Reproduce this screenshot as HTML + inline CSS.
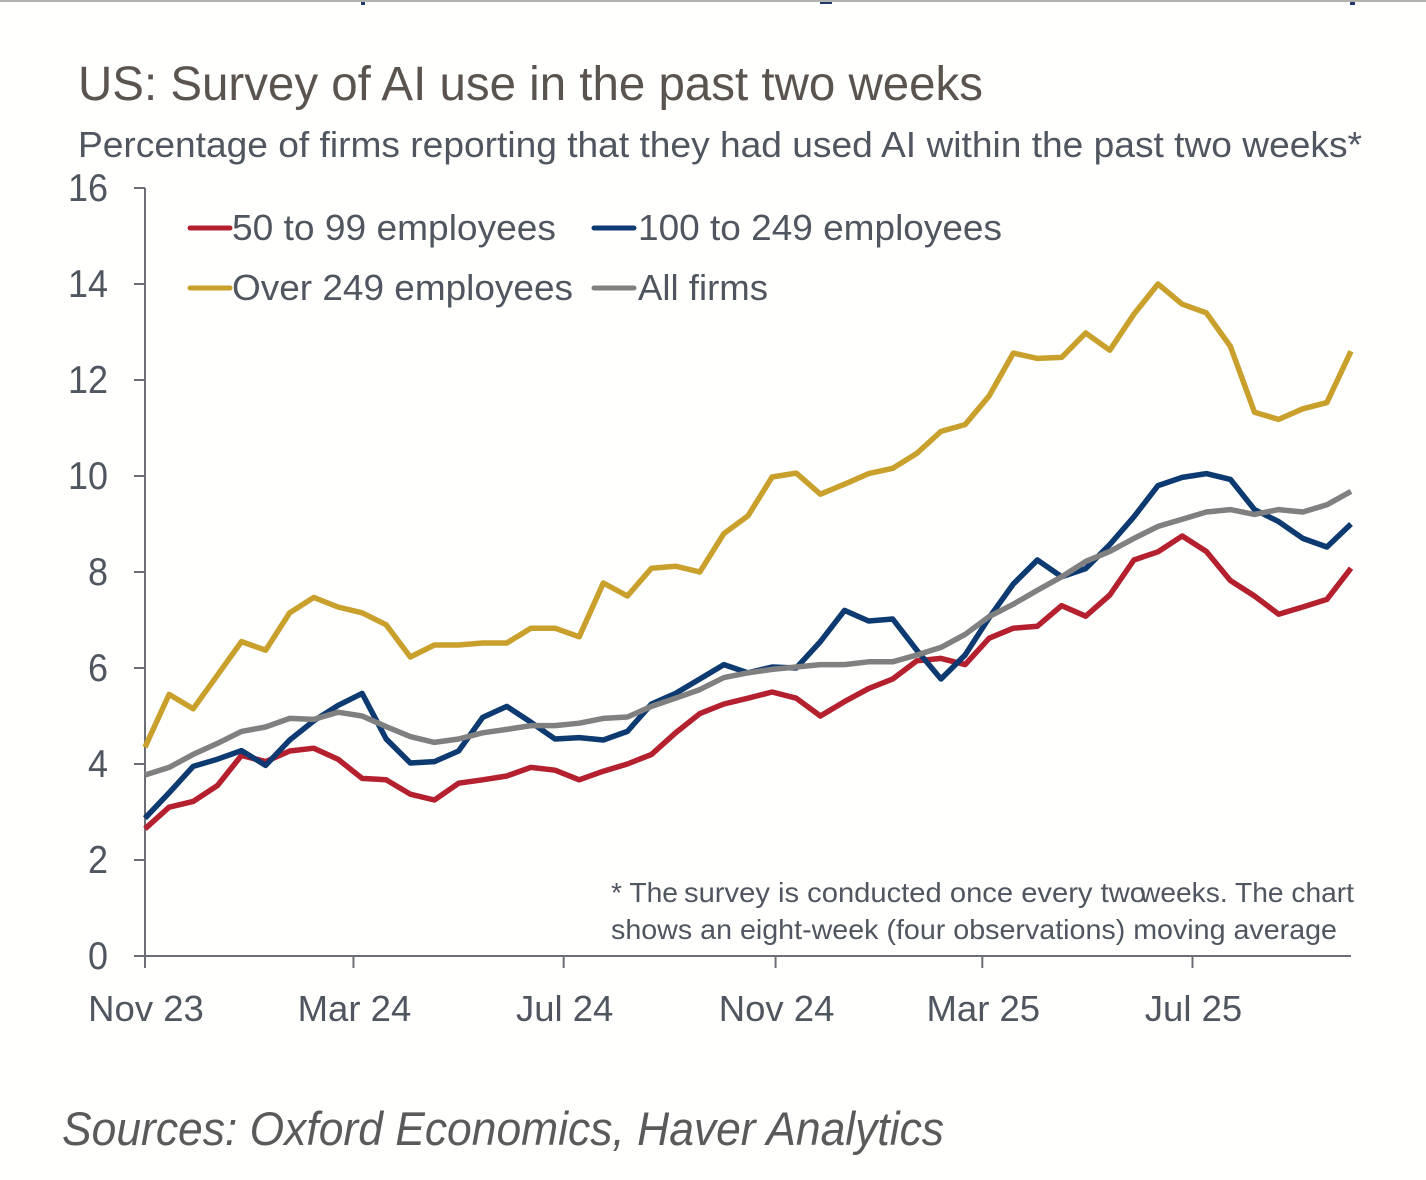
<!DOCTYPE html>
<html lang="en">
<head>
<meta charset="utf-8">
<title>US: Survey of AI use in the past two weeks</title>
<style>
  html, body { margin: 0; padding: 0; background: #fff; }
  body { width: 1426px; height: 1180px; overflow: hidden; }
  svg { display: block; font-family: "Liberation Sans", "DejaVu Sans", sans-serif; }
</style>
</head>
<body>
<svg id="chart" width="1426" height="1180" viewBox="0 0 1426 1180" xmlns="http://www.w3.org/2000/svg">
  <rect x="0" y="0" width="1426" height="1180" fill="#fffffe"/>
  <rect x="0" y="0" width="1426" height="2" fill="#b3b3ae"/>
  <rect x="361" y="2" width="4" height="3" fill="#1f3a6e"/>
  <rect x="820" y="2" width="12" height="2" fill="#1f3a6e"/>
  <rect x="1350" y="2" width="5" height="3" fill="#1f3a6e"/>

  <text x="78" y="100" font-size="48" fill="#5b544e" textLength="905" lengthAdjust="spacingAndGlyphs">US: Survey of AI use in the past two weeks</text>
  <text x="78" y="157" font-size="36" fill="#4f5660" textLength="1284" lengthAdjust="spacingAndGlyphs">Percentage of firms reporting that they had used AI within the past two weeks*</text>

  <g id="axes"></g>
  <g id="series"></g>

  <g>
    <g>
      <line x1="190" y1="228" x2="230" y2="228" stroke="#b5202e" stroke-width="5" stroke-linecap="round"/>
      <text x="232" y="240" font-size="36" fill="#4f5660" textLength="324" lengthAdjust="spacingAndGlyphs">50 to 99 employees</text>
    </g>
    <g>
      <line x1="594" y1="228" x2="634" y2="228" stroke="#0d3a70" stroke-width="5" stroke-linecap="round"/>
      <text x="638" y="240" font-size="36" fill="#4f5660" textLength="364" lengthAdjust="spacingAndGlyphs">100 to 249 employees</text>
    </g>
    <g>
      <line x1="190" y1="288" x2="230" y2="288" stroke="#c9a02c" stroke-width="5" stroke-linecap="round"/>
      <text x="232" y="300" font-size="36" fill="#4f5660" textLength="341" lengthAdjust="spacingAndGlyphs">Over 249 employees</text>
    </g>
    <g>
      <line x1="594" y1="288" x2="634" y2="288" stroke="#808080" stroke-width="5" stroke-linecap="round"/>
      <text x="638" y="300" font-size="36" fill="#4f5660" textLength="130" lengthAdjust="spacingAndGlyphs">All firms</text>
    </g>
  </g>

  <g font-size="28" fill="#4f5660">
    <text x="611" y="902" textLength="67" lengthAdjust="spacingAndGlyphs">* The</text>
    <text x="684" y="902" textLength="462" lengthAdjust="spacingAndGlyphs">survey is conducted once every two</text>
    <text x="1140" y="902" textLength="214" lengthAdjust="spacingAndGlyphs">weeks. The chart</text>
    <text x="611" y="939" textLength="726" lengthAdjust="spacingAndGlyphs">shows an eight-week (four observations) moving average</text>
  </g>

  <text x="62" y="1145" font-size="47" font-style="italic" fill="#5a5a5a" textLength="882" lengthAdjust="spacingAndGlyphs">Sources: Oxford Economics, Haver Analytics</text>
</svg>

<script>
var yTickValues = [0, 2, 4, 6, 8, 10, 12, 14, 16];
var xTickLabels = ["Nov 23", "Mar 24", "Jul 24", "Nov 24", "Mar 25", "Jul 25"];
var xTickDays = [0, 121, 243, 366, 486, 608];
var observationStepDays = 14;

var firms50to99 = [2.65,3.1,3.22,3.55,4.18,4.05,4.27,4.33,4.1,3.7,3.67,3.37,3.25,3.6,3.67,3.75,3.93,3.87,3.67,3.85,4.0,4.2,4.65,5.05,5.25,5.37,5.5,5.37,5.0,5.3,5.57,5.77,6.15,6.2,6.07,6.62,6.83,6.87,7.3,7.08,7.52,8.25,8.42,8.75,8.43,7.82,7.5,7.12,7.27,7.43,8.08];
var firms100to249 = [2.87,3.4,3.95,4.1,4.28,3.97,4.5,4.9,5.22,5.47,4.52,4.02,4.05,4.27,4.97,5.2,4.87,4.52,4.55,4.5,4.68,5.25,5.47,5.77,6.07,5.9,6.02,6.0,6.55,7.2,6.98,7.02,6.37,5.77,6.27,7.05,7.75,8.25,7.9,8.07,8.57,9.15,9.8,9.97,10.05,9.93,9.3,9.05,8.7,8.52,9.0];
var firmsOver249 = [4.35,5.45,5.15,5.85,6.55,6.37,7.15,7.47,7.27,7.15,6.9,6.23,6.48,6.48,6.52,6.52,6.83,6.83,6.65,7.77,7.5,8.08,8.12,8.0,8.8,9.17,9.98,10.06,9.62,9.83,10.05,10.16,10.47,10.93,11.07,11.67,12.56,12.45,12.47,12.98,12.62,13.37,14.0,13.58,13.4,12.7,11.33,11.18,11.4,11.53,12.6];
var firmsAll = [3.77,3.93,4.2,4.43,4.68,4.77,4.95,4.93,5.08,5.0,4.78,4.57,4.45,4.52,4.65,4.72,4.8,4.8,4.85,4.95,4.98,5.2,5.37,5.55,5.8,5.9,5.97,6.02,6.07,6.07,6.13,6.13,6.27,6.43,6.7,7.07,7.33,7.62,7.9,8.22,8.43,8.7,8.95,9.1,9.25,9.3,9.2,9.3,9.25,9.4,9.68];

var SVG_NS = "http://www.w3.org/2000/svg";
var axisColor = "#6b6f75";
var textColor = "#4f5660";

function xScale(day) { return 145 + day * (1206 / 700); }
function yScale(value) { return 956 - value * 48; }

function make(tag, attrs, parent) {
  var el = document.createElementNS(SVG_NS, tag);
  for (var key in attrs) { el.setAttribute(key, attrs[key]); }
  parent.appendChild(el);
  return el;
}

var axes = document.getElementById("axes");

var yAxisLine = make("line", {x1: 145, y1: yScale(16), x2: 145, y2: yScale(0), stroke: axisColor, "stroke-width": 2}, axes);



var xAxisLine = make("line", {x1: 134, y1: yScale(0), x2: xScale(700), y2: yScale(0), stroke: axisColor, "stroke-width": 2}, axes);



yTickValues.forEach(function (value) {
  var y = yScale(value);
  var tick = make("line", {x1: 134, y1: y, x2: 145, y2: y, stroke: axisColor, "stroke-width": 2}, axes);
  
  
  var label = make("text", {x: 108, y: y + 13, "text-anchor": "end", "font-size": 38.5, fill: textColor, textLength: String(value).length * 20, lengthAdjust: "spacingAndGlyphs"}, axes);
  
  
  label.textContent = value;
});

xTickLabels.forEach(function (text, i) {
  var x = xScale(xTickDays[i]);
  var tick = make("line", {x1: x, y1: yScale(0), x2: x, y2: yScale(0) + 12, stroke: axisColor, "stroke-width": 2}, axes);
  
  
  var label = make("text", {x: x + 1, y: 1021, "text-anchor": "middle", "font-size": 36.5, fill: textColor}, axes);
  
  
  label.textContent = text;
});

function drawSeries(values, color, name) {
  var points = values.map(function (value, i) {
    return xScale(i * observationStepDays).toFixed(1) + "," + yScale(value).toFixed(1);
  }).join(" ");
  var line = make("polyline", {points: points, fill: "none", stroke: color, "stroke-width": 5.5, "stroke-linejoin": "round", "stroke-linecap": "butt"}, document.getElementById("series"));
  
  
}

drawSeries(firmsOver249, "#c9a02c", "line-over-249-employees");
drawSeries(firms50to99, "#b5202e", "line-50-to-99-employees");
drawSeries(firms100to249, "#0d3a70", "line-100-to-249-employees");
drawSeries(firmsAll, "#808080", "line-all-firms");
</script>
</body>
</html>
